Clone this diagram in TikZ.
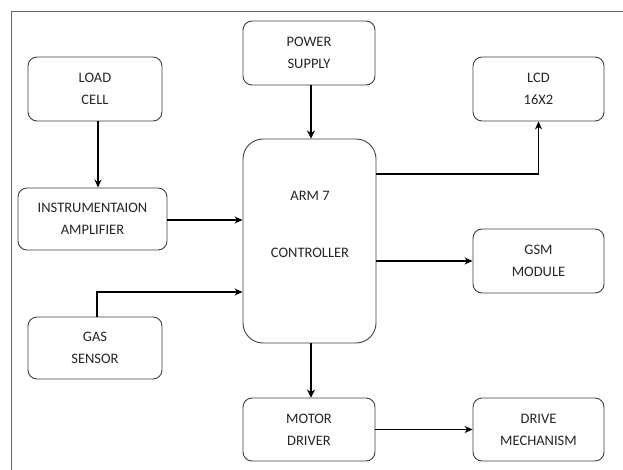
\documentclass[tikz,border=0pt]{standalone}
\usepackage{fontspec}
\setmainfont{Carlito}
\usetikzlibrary{arrows.meta}
\begin{document}
\begin{tikzpicture}[x=1pt,y=-1pt,
  blk/.style={draw=black!75, line width=0.9pt, rounded corners=9pt, align=center,
    inner sep=0pt, text=black!85, font=\fontsize{14.5}{22}\selectfont},
  arr/.style={line width=1.4pt, -{Stealth[length=8pt,width=7pt]}},
  tarr/.style={line width=2.6pt, -{Stealth[length=8pt,width=8pt]}}]
\useasboundingbox (0,0) rectangle (623,470);
\fill[white] (0,0) rectangle (623,470);
\draw[black!60, line width=1pt] (11,470) -- (11,12) -- (623,12);
\node[blk, minimum width=134pt, minimum height=64pt] (load) at (95,89) {LOAD\\CELL};
\node[blk, minimum width=149pt, minimum height=62pt] (amp) at (92.5,219) {INSTRUMENTAION\\AMPLIFIER};
\node[blk, minimum width=132pt, minimum height=64pt] (power) at (309,53) {POWER\\SUPPLY};
\node[blk, minimum width=133pt, minimum height=204pt, rounded corners=20pt] (arm) at (309.5,241) {};
\node[text=black!85, font=\fontsize{14.5}{22}\selectfont] (armt) at (310,196) {ARM 7};
\node[text=black!85, font=\fontsize{14.5}{22}\selectfont] (ctrl) at (310,253) {CONTROLLER};
\node[blk, minimum width=131pt, minimum height=64pt] (lcd) at (538.5,89) {LCD\\16X2};
\node[blk, minimum width=131pt, minimum height=64pt] (gsm) at (538.5,261) {GSM\\MODULE};
\node[blk, minimum width=134pt, minimum height=62pt] (gas) at (95,348) {GAS\\SENSOR};
\node[blk, minimum width=132pt, minimum height=63pt] (motor) at (309,429.5) {MOTOR\\DRIVER};
\node[blk, minimum width=131pt, minimum height=63pt] (drive) at (538.5,429.5) {DRIVE\\MECHANISM};
\draw[arr] ([xshift=3pt]load.south) -- ([xshift=3pt]load.south |- amp.north);
\draw[tarr] ([xshift=2pt]power.south) -- ([xshift=2pt]power.south |- arm.north);
\draw[arr] ([yshift=-1pt]amp.east) -- ([yshift=-1pt]amp.east -| arm.west);
\draw[arr] ([yshift=67pt]arm.east) -| (lcd.south);
\draw[arr] (arm.east |- gsm.west) -- (gsm.west);
\draw[arr] ([xshift=2pt]gas.north) |- ([yshift=-51pt]arm.west);
\draw[tarr] ([xshift=1.5pt]arm.south) -- ([xshift=1.5pt]arm.south |- motor.north);
\draw[arr] (motor.east) -- (drive.west);
\end{tikzpicture}
\end{document}
